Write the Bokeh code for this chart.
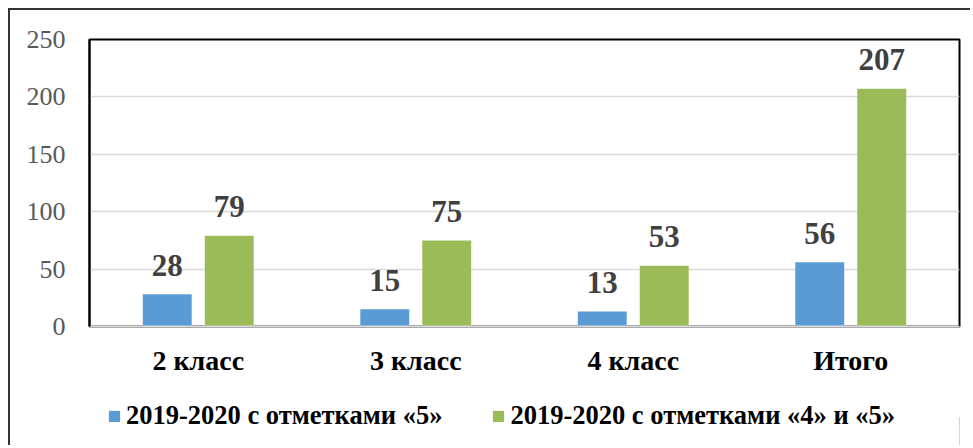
from bokeh.plotting import figure
from bokeh.models import ColumnDataSource, FactorRange, Legend, LegendItem, Range1d
from bokeh.layouts import column
from bokeh.transform import dodge
from bokeh.core.properties import value
from bokeh.embed import file_html
from bokeh.resources import INLINE

categories = ["2 класс", "3 класс", "4 класс", "Итого"]
series_names = ["2019-2020 с отметками «5»", "2019-2020 с отметками «4» и «5»"]
grade5 = [28, 15, 13, 56]
grade45 = [79, 75, 53, 207]
y_ticks = [0, 50, 100, 150, 200, 250]

BLUE = "#5b9bd5"
GREEN = "#9bbb59"
FONT = "Liberation Serif"
BORDER = "2px solid #333"

src = ColumnDataSource(dict(
    cat=categories,
    g5=grade5,
    g45=grade45,
    l5=[str(v) for v in grade5],
    l45=[str(v) for v in grade45],
))

# ---- main chart ----
p = figure(
    x_range=FactorRange(*categories),
    y_range=Range1d(0, 250),
    width=962, height=380,
    output_backend="svg", toolbar_location=None,
    min_border_left=79, min_border_right=13,
    min_border_top=29, min_border_bottom=64,
)
p.styles = {"border-left": BORDER, "border-top": BORDER}

off = 0.1425
bw = 0.225
p.vbar(x=dodge("cat", -off, range=p.x_range), top="g5", width=bw,
       source=src, fill_color=BLUE, line_color=None)
p.vbar(x=dodge("cat", off, range=p.x_range), top="g45", width=bw,
       source=src, fill_color=GREEN, line_color=None)

for col, lab, dx in (("g5", "l5", -off), ("g45", "l45", off)):
    p.text(x=dodge("cat", dx, range=p.x_range), y=col, text=lab, source=src,
           text_align="center", text_baseline="alphabetic", y_offset=-29,
           text_font=value(FONT), text_font_style="bold",
           text_font_size="31px", text_color="#404040")

p.outline_line_color = "black"
p.outline_line_width = 2
p.outline_line_alpha = 1

p.yaxis.ticker = y_ticks
p.yaxis.axis_line_color = "black"
p.yaxis.axis_line_width = 2
p.yaxis.major_tick_line_color = None
p.yaxis.major_tick_out = 0
p.yaxis.major_tick_in = 0
p.yaxis.minor_tick_line_color = None
p.yaxis.major_label_standoff = 24
p.yaxis.major_label_text_font = FONT
p.yaxis.major_label_text_font_size = "26px"
p.yaxis.major_label_text_color = "#595959"

p.xaxis.axis_line_color = "#d9d9d9"
p.xaxis.axis_line_width = 2
p.xaxis.major_tick_line_color = None
p.xaxis.major_tick_out = 0
p.xaxis.major_tick_in = 0
p.xaxis.major_label_standoff = 18
p.xaxis.major_label_text_font = FONT
p.xaxis.major_label_text_font_style = "bold"
p.xaxis.major_label_text_font_size = "28px"
p.xaxis.major_label_text_color = "black"

p.xgrid.grid_line_color = None
p.ygrid.ticker = y_ticks
p.ygrid.grid_line_color = "#d9d9d9"
p.ygrid.grid_line_width = 1.5

# ---- legend strip ----
p2 = figure(
    x_range=Range1d(0, 1), y_range=Range1d(0, 1),
    width=962, height=57,
    output_backend="svg", toolbar_location=None,
    x_axis_type=None, y_axis_type=None,
    min_border_left=79, min_border_right=13, min_border_top=0, min_border_bottom=0,
)
p2.styles = {"border-left": BORDER}
p2.outline_line_color = None
p2.xgrid.grid_line_color = None
p2.ygrid.grid_line_color = None

# legend-key renderers: one point each, placed outside the visible range
key_src = ColumnDataSource(dict(x=[5.0], top=[0.5]))
l1 = p2.vbar(x="x", top="top", width=0.1, source=key_src, fill_color=BLUE, line_color=None)
l2 = p2.vbar(x="x", top="top", width=0.1, source=key_src, fill_color=GREEN, line_color=None)

legend = Legend(
    items=[LegendItem(label=series_names[0], renderers=[l1]),
           LegendItem(label=series_names[1], renderers=[l2])],
    orientation="horizontal", location=(18, 14),
    padding=0, margin=0, spacing=49, label_standoff=5,
    glyph_width=14, glyph_height=14,
    label_text_font=FONT, label_text_font_style="bold",
    label_text_font_size="26.5px", label_text_color="black",
    border_line_color=None, background_fill_alpha=0,
)
p2.add_layout(legend)

layout = column(p, p2, spacing=0)
layout.styles = {"margin-left": "8px", "margin-top": "8px"}

open("out.html", "w").write(file_html(layout, INLINE))
